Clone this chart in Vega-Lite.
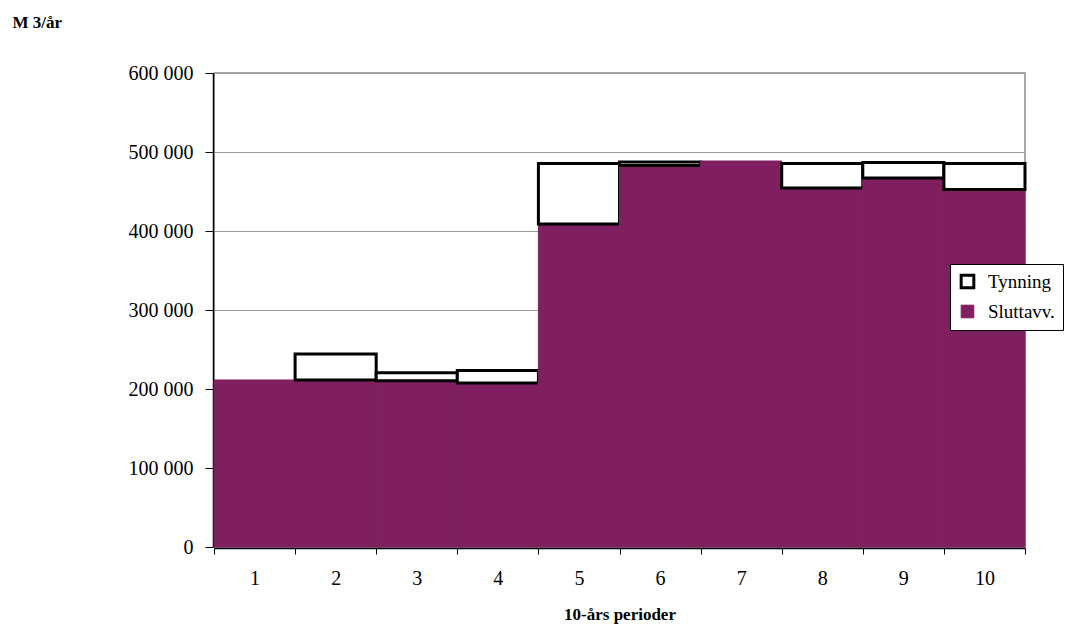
{
  "$schema": "https://vega.github.io/schema/vega-lite/v6.json",
  "autosize": "none",
  "width": 811,
  "height": 474,
  "padding": {"left": 214, "top": 73, "right": 44, "bottom": 79},
  "background": "white",
  "config": {
    "view": {"stroke": "#8c8c8c", "strokeWidth": 1.5},
    "font": "Liberation Serif"
  },
  "data": {
    "values": [
      {"period": 1, "series": "Sluttavv.", "value": 211400},
      {"period": 2, "series": "Sluttavv.", "value": 211400},
      {"period": 2, "series": "Tynning", "value": 33000},
      {"period": 3, "series": "Sluttavv.", "value": 210500},
      {"period": 3, "series": "Tynning", "value": 10000},
      {"period": 4, "series": "Sluttavv.", "value": 207600},
      {"period": 4, "series": "Tynning", "value": 15800},
      {"period": 5, "series": "Sluttavv.", "value": 408900},
      {"period": 5, "series": "Tynning", "value": 76500},
      {"period": 6, "series": "Sluttavv.", "value": 483000},
      {"period": 6, "series": "Tynning", "value": 4300},
      {"period": 7, "series": "Sluttavv.", "value": 488600},
      {"period": 8, "series": "Sluttavv.", "value": 454400},
      {"period": 8, "series": "Tynning", "value": 31000},
      {"period": 9, "series": "Sluttavv.", "value": 467100},
      {"period": 9, "series": "Tynning", "value": 19600},
      {"period": 10, "series": "Sluttavv.", "value": 452500},
      {"period": 10, "series": "Tynning", "value": 32900}
    ]
  },
  "mark": {"type": "bar", "strokeJoin": "miter"},
  "encoding": {
    "x": {
      "field": "period",
      "type": "ordinal",
      "scale": {"paddingInner": 0, "paddingOuter": 0},
      "axis": {
        "title": "10-års perioder",
        "titleFont": "Liberation Serif",
        "titleFontSize": 17,
        "titleFontWeight": "bold",
        "titleColor": "black",
        "titlePadding": 18,
        "labelAngle": 0,
        "labelFont": "Liberation Serif",
        "labelFontSize": 20,
        "labelColor": "black",
        "labelPadding": 14,
        "tickBand": "extent",
        "tickSize": 6,
        "tickColor": "black",
        "domainColor": "black",
        "domainWidth": 1.5,
        "offset": 1
      }
    },
    "y": {
      "field": "value",
      "type": "quantitative",
      "stack": "zero",
      "scale": {"domain": [0, 600000], "nice": false},
      "axis": {
        "values": [0, 100000, 200000, 300000, 400000, 500000, 600000],
        "labelExpr": "replace(format(datum.value, ','), ',', ' ')",
        "title": "M 3/år",
        "titleAngle": 0,
        "titleX": -201,
        "titleY": -51,
        "titleAlign": "left",
        "titleBaseline": "middle",
        "titleFont": "Liberation Serif",
        "titleFontSize": 17,
        "titleFontWeight": "bold",
        "titleColor": "black",
        "labelFont": "Liberation Serif",
        "labelFontSize": 20,
        "labelColor": "black",
        "labelPadding": 12,
        "tickSize": 8,
        "tickColor": "black",
        "domainColor": "black",
        "domainWidth": 1.5,
        "offset": 1,
        "grid": true,
        "gridColor": "#9a9a9a",
        "gridWidth": 1
      }
    },
    "fill": {
      "field": "series",
      "type": "nominal",
      "scale": {"domain": ["Tynning", "Sluttavv."], "range": ["#ffffff", "#7f1f5f"]},
      "legend": {
        "title": null,
        "orient": "none",
        "legendX": 736,
        "legendY": 191,
        "fillColor": "white",
        "strokeColor": "black",
        "padding": 8,
        "symbolType": "square",
        "symbolSize": 160,
        "symbolStrokeWidth": 3,
        "labelFont": "Liberation Serif",
        "labelFontSize": 19,
        "labelColor": "black",
        "labelOffset": 11,
        "rowPadding": 8
      }
    },
    "stroke": {
      "field": "series",
      "type": "nominal",
      "scale": {"domain": ["Tynning", "Sluttavv."], "range": ["#000000", "#7f1f5f"]}
    },
    "strokeWidth": {
      "field": "series",
      "type": "nominal",
      "scale": {"domain": ["Tynning", "Sluttavv."], "range": [3, 1]},
      "legend": null
    },
    "order": {"field": "series", "sort": "ascending"}
  }
}
